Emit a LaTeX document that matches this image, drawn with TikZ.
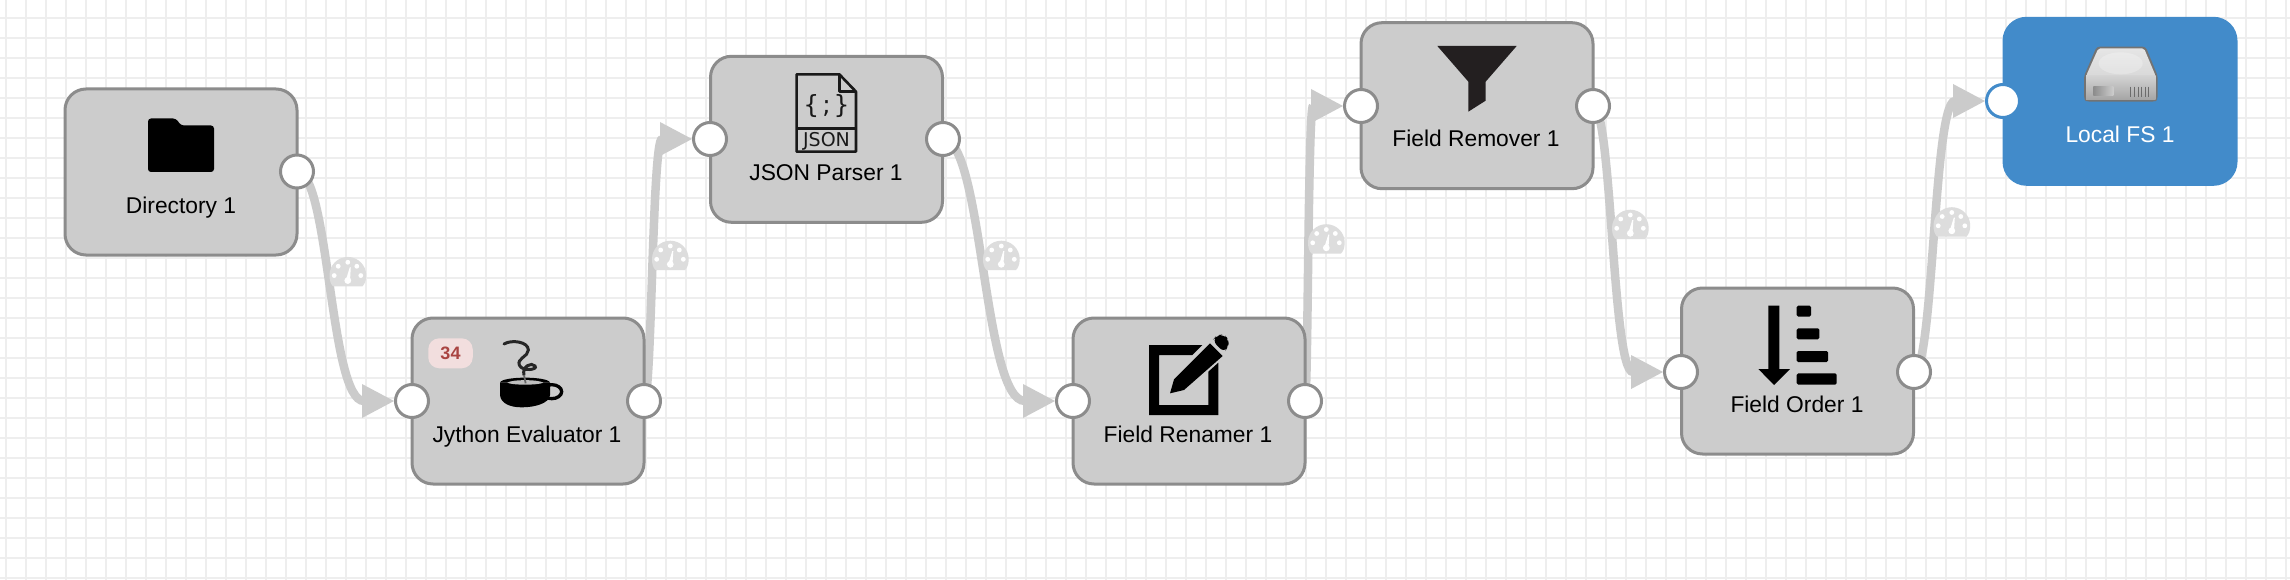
\documentclass[tikz,border=0pt]{standalone}
\usepackage{fontspec}
\setmainfont{Liberation Sans}
\newfontfamily\iconfont{DejaVu Sans}
\usetikzlibrary{calc}
\pgfdeclarelayer{gridlayer}
\pgfdeclarelayer{wirelayer}
\pgfsetlayers{gridlayer,wirelayer,main}
\definecolor{gridc}{HTML}{EEEEEE}
\definecolor{boxfill}{HTML}{CCCCCC}
\definecolor{boxline}{HTML}{8C8C8C}
\definecolor{connc}{HTML}{CBCBCB}
\definecolor{gaugec}{HTML}{DDDDDD}
\definecolor{bluec}{HTML}{428BCA}
\definecolor{badgefill}{HTML}{F2DEDE}
\definecolor{badgetext}{HTML}{A94442}
\definecolor{funnelc}{HTML}{231F20}
\tikzset{
  stagebox/.style={rectangle,rounded corners=21pt,minimum width=232pt,minimum height=166pt,inner sep=0pt,fill=boxfill,draw=boxline,line width=3pt},
  targetbox/.style={rectangle,rounded corners=24pt,minimum width=235pt,minimum height=169pt,inner sep=0pt,fill=bluec},
  portdot/.style={circle,minimum size=33pt,inner sep=0pt,fill=white,draw=boxline,line width=3pt},
  targetport/.style={portdot,draw=bluec},
  stagelabel/.style={anchor=base,inner sep=0pt,font=\fontsize{22.8}{27}\selectfont},
  connline/.style={draw=connc,line width=8.5pt},
  connhead/.style={fill=connc},
  gauge/.pic={
    \fill[gaugec] (0,-11) .. controls (0,-21) and (8,-29.3) .. (18.3,-29.3)
      .. controls (28.5,-29.3) and (36.7,-21) .. (36.7,-11)
      .. controls (36.7,-5) and (35,-2) .. (33,0) -- (3.5,0)
      .. controls (1.5,-2) and (0,-5) .. (0,-11) -- cycle;
    \fill[white] (4.7,-10.7) circle[radius=2.4pt] (8.7,-20) circle[radius=2.4pt]
      (18.3,-24) circle[radius=2.4pt] (27.3,-20) circle[radius=2.4pt] (31.3,-10.7) circle[radius=2.4pt];
    \fill[white] (18.3,-5.7) circle[radius=3.4pt];
    \fill[white] (16.3,-6) -- (20.3,-19) -- (21.3,-19) -- (20.5,-6) -- cycle;
  },
  zoomed/.style={x=.33333pt,y=-.33333pt}
}
\newcommand\joinports[2]{%
  \draw[connline] let \p1=(#1.center),\p2=(#2.center),\n1={\x2-50pt},\n2={(\x1+\n1)/2} in
    (\p1) .. controls (\n2,\y1) and (\n2,\y2) .. (\n1+2pt,\y2);
  \fill[connhead] let \p2=(#2.center) in
    (\x2-50pt,\y2+17pt) -- (\x2-18pt,\y2) -- (\x2-50pt,\y2-17pt) -- cycle;
  \path let \p1=(#1.center),\p2=(#2.center),\n1={\x2-50pt},\n2={(\x1+\n1)/2},\n3={(\y1+\y2)/2} in
    (\n2,\n3) pic {gauge};
}
\begin{document}
\begin{tikzpicture}[x=1pt,y=-1pt]
\useasboundingbox (0,0) rectangle (2290,580);
\begin{pgfonlayer}{gridlayer}
\fill[white] (0,0) rectangle (2290,580);
\foreach \k in {0,...,114} \draw[gridc,line width=2pt] ({6+20*\k},0) -- ({6+20*\k},580);
\foreach \k in {0,...,28} \draw[gridc,line width=2pt] (0,{18+20*\k}) -- (2290,{18+20*\k});
\end{pgfonlayer}

% boxes
\node[stagebox] (dirbox) at (181,172) {};
\node[stagebox] (jybox) at (528,401) {};
\node[stagebox] (jsbox) at (826.5,139.3) {};
\node[stagebox] (fnbox) at (1189,401) {};
\node[stagebox] (rmbox) at (1477,105.7) {};
\node[stagebox] (ordbox) at (1797.5,371) {};
\node[targetbox] (fsbox) at (2120,101.3) {};

% ports
\node[portdot] (dirout) at (297,171.5) {};
\node[portdot] (jyin) at (412,401) {};
\node[portdot] (jyout) at (644,401) {};
\node[portdot] (jsin) at (710,139) {};
\node[portdot] (jsout) at (943,139) {};
\node[portdot] (fnin) at (1073,401) {};
\node[portdot] (fnout) at (1305,401) {};
\node[portdot] (rmin) at (1361,106) {};
\node[portdot] (rmout) at (1593,106) {};
\node[portdot] (ordin) at (1681,372) {};
\node[portdot] (ordout) at (1914,372) {};
\node[targetport] (fsin) at (2003,101) {};

% connectors with their gauges, under the boxes
\begin{pgfonlayer}{wirelayer}
\joinports{dirout}{jyin}
\joinports{jyout}{jsin}
\joinports{jsout}{fnin}
\joinports{fnout}{rmin}
\joinports{rmout}{ordin}
\joinports{ordout}{fsin}
\end{pgfonlayer}

% labels
\node[stagelabel] (dirlabel) at (181,213.5) {Directory 1};
\node[stagelabel] (jylabel) at (527,442.5) {Jython Evaluator 1};
\node[stagelabel] (jslabel) at (826,181) {JSON Parser 1};
\node[stagelabel] (fnlabel) at (1188,442.5) {Field Renamer 1};
\node[stagelabel] (rmlabel) at (1476,147) {Field Remover 1};
\node[stagelabel] (ordlabel) at (1797,412) {Field Order 1};
\node[stagelabel,text=white] (fslabel) at (2120,142.5) {Local FS 1};

% badge
\node[rectangle,rounded corners=11pt,minimum width=44.5pt,minimum height=30pt,inner sep=0pt,fill=badgefill] (badge) at (450.5,353.3) {};
\node[anchor=base,inner sep=0pt,text=badgetext,font=\fontsize{18}{20}\selectfont\bfseries] (badgetxt) at (450.5,359.5) {34};

% folder icon
\fill[black,rounded corners=3pt] (148,172) -- (148,118.5) -- (176,118.5) -- (181,125.5) -- (214,125.5) -- (214,172) -- cycle;

% jython icon
\begin{scope}[shift={(380,300)},zoomed]
  \draw[black,line width=3.3pt] (515,275) ellipse [x radius=10pt,y radius=7pt];
  \fill[black] (360,248) -- (360,285) .. controls (362,310) and (390,322) .. (425,322)
    .. controls (465,322) and (508,310) .. (510,285) -- (510,248) -- cycle;
  \fill[black] (360,248) .. controls (365,228) and (505,228) .. (510,248) -- cycle;
  \fill[gray!50] (382,248) .. controls (395,238) and (475,238) .. (490,248)
    .. controls (475,256) and (395,256) .. (382,248) -- cycle;
  \draw[black!85,line width=3pt,line cap=round] (372,132) .. controls (395,118) and (445,125) .. (445,150)
    .. controls (445,170) and (410,175) .. (418,195) .. controls (425,215) and (475,210) .. (465,198)
    .. controls (455,185) and (425,200) .. (432,225);
  \draw[black!60,line width=1.8pt] (432,225) -- (437,250);
\end{scope}

% json icon
\begin{scope}[shift={(680,30)},zoomed]
  \draw[black!90,line width=2.6pt,line join=round] (350,133) -- (478,133) -- (528,185) -- (528,365) -- (350,365) -- cycle;
  \draw[black!90,line width=2.6pt,line join=round] (478,133) -- (478,185) -- (528,185);
  \draw[black!90,line width=2.6pt] (350,295) -- (528,295);
\end{scope}
\node[inner sep=0pt,font=\iconfont\fontsize{25}{28}\selectfont,text=black!90] (jsbraces) at (826.5,106) {\{\hspace{3pt};\hspace{3pt}\}};
\node[inner sep=0pt,anchor=base,font=\iconfont\fontsize{19}{21}\selectfont,text=black!90] (jsword) at (826.5,147) {JSON};

% edit icon
\begin{scope}[shift={(1040,300)},zoomed]
  \fill[black] (327,135) -- (487,135) -- (457,165) -- (357,165) -- (357,315) -- (505,315) -- (505,215) -- (535,188) -- (535,345) -- (327,345) -- cycle;
  \fill[black] (390,280) -- (402,238) -- (510,130) -- (548,168) -- (432,270) -- cycle;
  \fill[black,rounded corners=6pt] (517,122) -- (530,106) -- (552,103) -- (567,120) -- (565,138) -- (553,158) -- cycle;
\end{scope}

% funnel icon
\begin{scope}[shift={(1340,0)},zoomed]
  \fill[funnelc] (292,138) -- (530,138) -- (437,245) -- (437,302) -- (385,335) -- (385,245) -- cycle;
\end{scope}

% sort icon
\begin{scope}[shift={(1650,270)},zoomed]
  \fill[black] (355,107) -- (388,107) -- (388,297) -- (420,297) -- (372,345) -- (325,297) -- (355,297) -- cycle;
  \fill[black,rounded corners=1.5pt] (440,107) rectangle (483,140);
  \fill[black,rounded corners=1.5pt] (440,175) rectangle (508,208);
  \fill[black,rounded corners=1.5pt] (440,243) rectangle (534,276);
  \fill[black,rounded corners=1.5pt] (440,310) rectangle (560,344);
\end{scope}

% disk icon
\begin{scope}[shift={(1900,0)},zoomed]
  \fill[black!55,rounded corners=3pt] (590,140) -- (737,140) -- (773,228) -- (773,298) -- (765,305) -- (560,305) -- (552,298) -- (552,228) -- cycle;
  \shade[top color=gray!20,bottom color=gray!30,rounded corners=2pt] (595,145) -- (732,145) -- (767,228) -- (558,228) -- cycle;
  \fill[white,opacity=.25] (662,190) ellipse [x radius=22pt,y radius=11pt];
  \shade[top color=gray!35,bottom color=gray!70] (558,228) rectangle (767,298);
  \shade[left color=gray!90,right color=gray!40] (580,260) rectangle (640,287);
  \foreach \s in {692,703,714,725,736,746}
    \draw[gray!85!black,line width=1pt] (\s,260) -- (\s,292);
\end{scope}
\end{tikzpicture}
\end{document}
